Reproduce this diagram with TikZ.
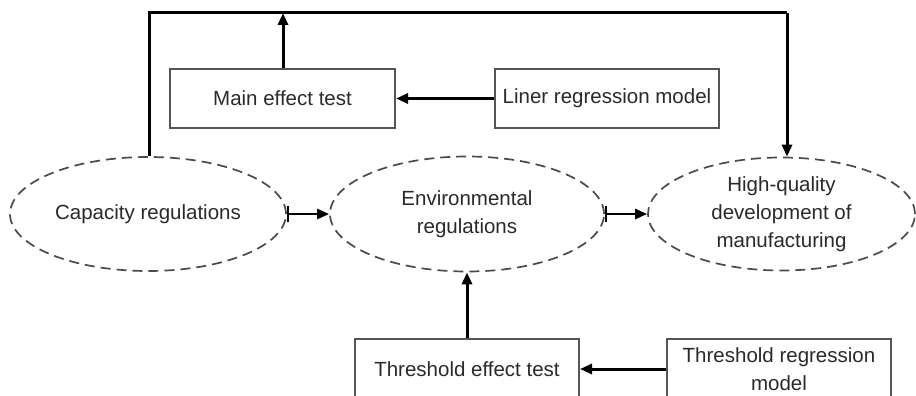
\documentclass[tikz,border=0pt]{standalone}
\usepackage{fontspec}
\setmainfont{Liberation Sans}
\usetikzlibrary{shapes.geometric,arrows.meta}
\definecolor{txt}{HTML}{2A2A2A}
\definecolor{edge}{HTML}{555555}
\definecolor{dash}{HTML}{4A4A4A}
\tikzset{
  lbl/.style={font=\fontsize{20.5}{28}\selectfont, text=txt, align=center},
  boxnode/.style={lbl, draw=edge, line width=2pt, rectangle, inner sep=0pt},
  ell/.style={lbl, draw=dash, line width=1.7pt, dash pattern=on 10pt off 6pt, ellipse, inner sep=0pt},
  conn/.style={line width=3pt, -{Triangle[length=12pt,width=10pt]}},
  barconn/.style={line width=2.6pt, {Bar[width=16pt,line width=2pt]}-{Triangle[length=12pt,width=10pt]}},
  plain/.style={line width=3pt}
}
\begin{document}
\begin{tikzpicture}[x=1pt,y=-1pt]
\clip (0,0) rectangle (916,396);
\fill[white] (0,0) rectangle (916,396);
% ellipses
\node[ell, minimum width=276pt, minimum height=114pt] (cap) at (148,214) {Capacity regulations};
\node[ell, minimum width=274pt, minimum height=115pt] (env) at (467,214) {Environmental\\regulations};
\node[ell, minimum width=267pt, minimum height=113pt] (hq) at (781.5,214) {High-quality\\development of\\manufacturing};
% boxes
\node[boxnode, minimum width=225pt, minimum height=59pt] (main) at (282.5,98.5) {Main effect test};
\node[boxnode, minimum width=224pt, minimum height=59pt] (lin) at (607,98.5) {Liner regression model};
\node[boxnode, minimum width=224pt, minimum height=60pt] (thr) at (467,369) {Threshold effect test};
\node[boxnode, minimum width=224pt, minimum height=60pt] (treg) at (779,369) {Threshold regression\\model};
% top feedback line
\coordinate (tl) at (149,13);
\coordinate (tr) at (787,13);
\coordinate (tm) at (283,13);
\draw[plain, line join=miter] (cap.north -| tl) -- (tl) -- (tr);
\draw[conn] (tr) -- (hq.north -| tr);
\draw[conn] (main.north -| tm) -- (tm);
\draw[conn] (lin.west) -- (main.east);
% between ellipses
\draw[barconn] (cap.east) -- (env.west);
\draw[barconn] (env.east) -- (hq.west);
% bottom
\draw[conn] (thr.north -| env.south) -- (env.south);
\coordinate (ty) at (0,369);
\draw[conn] (treg.west |- ty) -- (thr.east |- ty);
\end{tikzpicture}
\end{document}
